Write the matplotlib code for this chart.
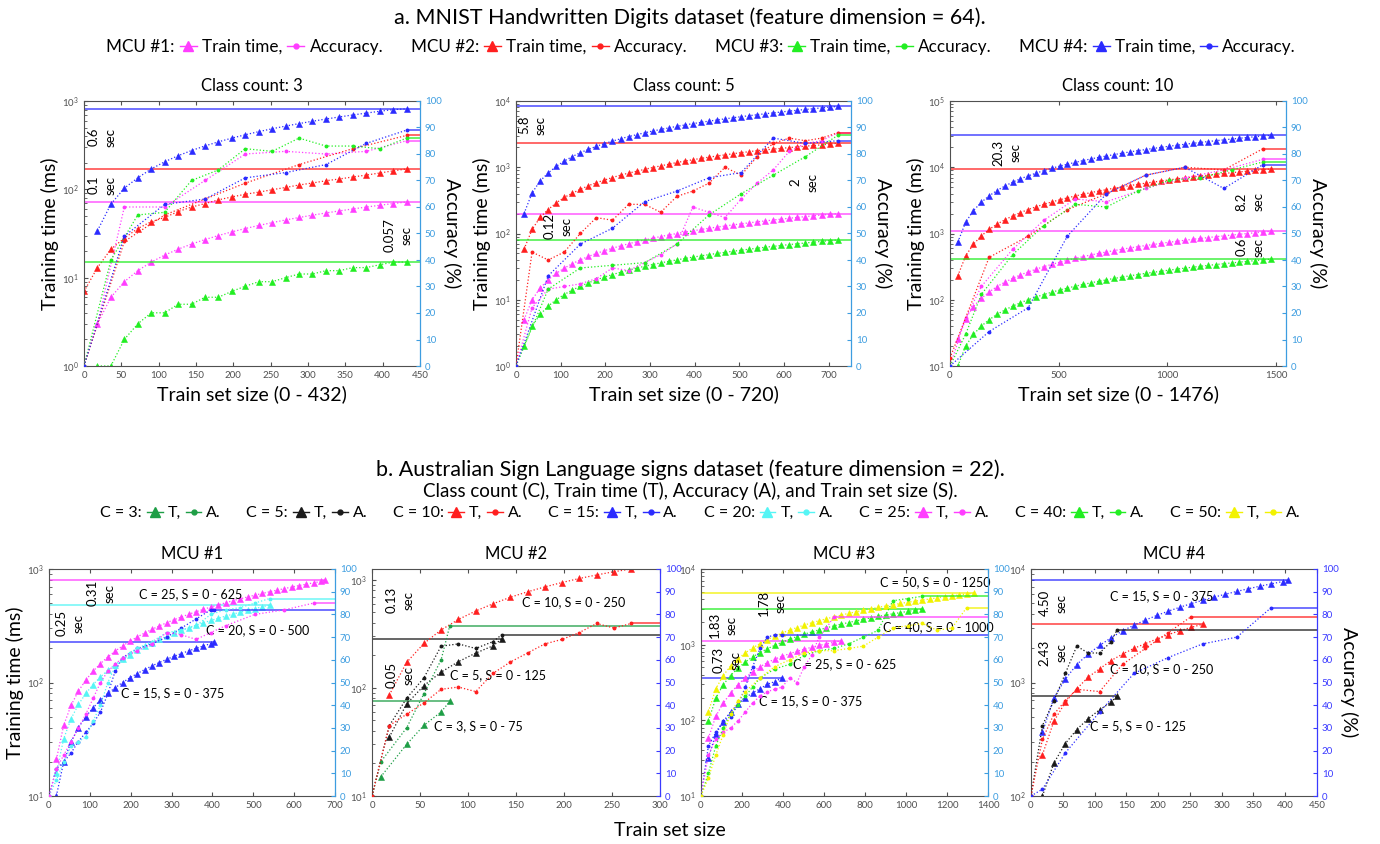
import numpy as np
import matplotlib
matplotlib.use("Agg")
import matplotlib.pyplot as plt
from matplotlib.lines import Line2D
from matplotlib.ticker import MultipleLocator, NullFormatter

plt.rcParams['font.family'] = ['Lato', 'DejaVu Sans']

# colours
MAGENTA = '#ff3dff'
RED = '#ff1f1f'
GREEN = '#22ee22'
BLUE = '#2b2bff'
CYAN = '#55f5f5'
YELLOW = '#f2f200'
DKGREEN = '#1e9e46'
BLACK = '#1a1a1a'
LIGHTBLUE = '#3d9de0'
AXBLUE = '#3a3aff'
GRAY = '#505050'

# ---------------- a. MNIST, class count 3 ----------------
a3_x = np.arange(18, 433, 18)
a3_x0 = np.arange(0, 433, 18)
a3_t_mcu1 = [3, 6, 9, 12, 15, 18, 21, 24, 27, 30, 33, 36, 39, 42, 45, 48, 51, 54, 57, 60, 63, 66, 69, 72]
a3_t_mcu2 = [7, 13, 21, 28, 36, 43, 48, 56, 63, 69, 76, 82, 88, 93, 99, 105, 112, 118, 125, 131, 138, 145, 153, 162, 170]
a3_t_mcu3 = [1, 1, 2, 3, 4, 4, 5, 5, 6, 6, 7, 8, 9, 9, 10, 11, 11, 12, 12, 13, 13, 14, 15, 15]
a3_t_mcu4 = [34, 68, 103, 135, 170, 205, 240, 275, 310, 345, 380, 415, 450, 485, 520, 555, 590, 625, 660, 695, 730, 765, 800, 815]
a3_ax_mcu1 = [0, 18, 54, 108, 162, 216, 270, 324, 378, 432]
a3_acc_mcu1 = [0, 16, 60, 60, 70, 80, 81, 80, 81, 85]
a3_ax_mcu2 = [0, 54, 108, 162, 216, 288, 360, 432]
a3_acc_mcu2 = [0, 47, 57, 63, 69, 76, 82, 87]
a3_ax_mcu3 = [0, 36, 72, 108, 144, 180, 216, 252, 288, 324, 360, 396, 432]
a3_acc_mcu3 = [0, 40, 57, 58, 70, 74, 82, 81, 86, 83, 83, 82, 86]
a3_ax_mcu4 = [0, 54, 108, 162, 216, 270, 324, 378, 432]
a3_acc_mcu4 = [0, 49, 61, 63, 71, 73, 76, 84, 89]

# ---------------- a. MNIST, class count 5 ----------------
a5_x = np.arange(18, 721, 18)
a5_t_mcu1 = [5, 10, 15, 20, 25, 30, 35, 40, 45, 50, 55, 60, 65, 70, 75, 80, 85, 90, 95, 100,
             105, 110, 115, 120, 125, 130, 135, 140, 145, 150, 155, 160, 165, 170, 175, 180, 185, 190, 195, 200]
a5_t_mcu2 = [58, 115, 175, 230, 290, 350, 405, 465, 525, 585, 640, 700, 760, 815, 870, 930, 990, 1050, 1110, 1180,
             1240, 1300, 1360, 1420, 1480, 1540, 1600, 1660, 1720, 1780, 1830, 1880, 1930, 1980, 2030, 2080, 2130, 2180, 2240, 2300]
a5_t_mcu3 = [2, 4, 6, 8, 10, 12, 14, 16, 18, 20, 22, 24, 26, 28, 30, 32, 34, 36, 38, 40,
             42, 44, 46, 48, 50, 52, 54, 56, 58, 60, 62, 64, 66, 68, 70, 72, 74, 76, 78, 80]
a5_t_mcu4 = [200, 410, 620, 820, 1030, 1240, 1450, 1660, 1860, 2070, 2280, 2480, 2690, 2900, 3100, 3310, 3520, 3720, 3930, 4140,
             4350, 4550, 4760, 4970, 5170, 5380, 5590, 5800, 6000, 6210, 6420, 6620, 6830, 7040, 7250, 7450, 7660, 7870, 8070, 8280]
a5_ax_mcu1 = [0, 36, 72, 108, 144, 180, 216, 252, 288, 324, 360, 396, 432, 468, 504, 540, 576, 612, 648, 684, 720]
a5_acc_mcu1 = [0, 22, 29, 30, 31, 33, 37, 36, 39, 42, 46, 60, 58, 56, 63, 69, 74, 81, 84, 85, 88]
a5_ax_mcu2 = [0, 36, 72, 108, 144, 180, 216, 252, 288, 324, 360, 396, 432, 468, 504, 540, 576, 612, 648, 684, 720]
a5_acc_mcu2 = [0, 43, 40, 43, 50, 56, 55, 61, 61, 58, 64, 66, 69, 75, 72, 79, 84, 86, 85, 86, 88]
a5_ax_mcu3 = [0, 72, 144, 216, 288, 360, 432, 504, 576, 648, 720]
a5_acc_mcu3 = [0, 29, 37, 38, 39, 46, 57, 65, 72, 79, 87]
a5_ax_mcu4 = [0, 72, 144, 216, 288, 360, 432, 504, 576, 648, 720]
a5_acc_mcu4 = [0, 34, 46, 52, 62, 66, 71, 73, 86, 84, 85]

# ---------------- a. MNIST, class count 10 ----------------
a10_x = np.arange(36, 1477, 36)
a10_t_mcu1 = [26, 52, 79, 105, 131, 158, 184, 210, 237, 263, 289, 316, 342, 368, 395, 421, 447, 474, 500, 526, 553,
              579, 605, 632, 658, 684, 711, 737, 763, 790, 816, 842, 869, 895, 921, 948, 974, 1000, 1027, 1053, 1080]
a10_t_mcu2 = [230, 460, 690, 920, 1150, 1380, 1610, 1840, 2070, 2300, 2530, 2760, 2990, 3220, 3450, 3680, 3910, 4140, 4370, 4600, 4830,
              5060, 5290, 5520, 5750, 5980, 6210, 6440, 6670, 6900, 7130, 7360, 7590, 7820, 8050, 8280, 8510, 8740, 8970, 9200, 9430]
a10_t_mcu3 = [10, 20, 30, 40, 50, 60, 70, 80, 90, 100, 110, 120, 130, 140, 150, 160, 170, 180, 190, 200, 210,
              220, 230, 240, 250, 260, 270, 280, 290, 300, 310, 320, 330, 340, 350, 360, 370, 380, 390, 400, 410]
a10_t_mcu4 = [740, 1480, 2220, 2960, 3700, 4450, 5200, 5950, 6700, 7400, 8150, 8900, 9650, 10400, 11100, 11850, 12600, 13350, 14100, 14800, 15550,
              16300, 17050, 17800, 18500, 19250, 20000, 20750, 21500, 22200, 22950, 23700, 24450, 25200, 25900, 26650, 27400, 28150, 28900, 29600, 30300]
a10_ax_mcu1 = [0, 72, 144, 288, 432, 576, 720, 900, 1080, 1260, 1440]
a10_acc_mcu1 = [0, 18, 30, 44, 55, 63, 62, 67, 71, 74, 78]
a10_ax_mcu2 = [0, 180, 360, 540, 720, 900, 1080, 1260, 1440]
a10_acc_mcu2 = [3, 41, 49, 59, 65, 72, 75, 74, 82]
a10_ax_mcu3 = [0, 72, 144, 288, 432, 576, 720, 864, 1008, 1152, 1296, 1440]
a10_acc_mcu3 = [0, 12, 27, 42, 53, 61, 60, 66, 70, 71, 74, 77]
a10_ax_mcu4 = [0, 180, 360, 540, 720, 900, 1080, 1260, 1440]
a10_acc_mcu4 = [0, 13, 22, 49, 65, 72, 75, 67, 76]

# ---------------- b. Auslan, MCU #1 ----------------
b1_x15 = np.append(np.arange(18, 397, 18), 405)
b1_t15 = [10, 20, 30, 40, 50, 60, 70, 80, 90, 100, 110, 120, 130, 140, 150, 160, 170, 180, 190, 200, 210, 220, 228]
b1_x20 = np.arange(18, 541, 18)
b1_t20 = [16, 32, 48, 64, 80, 96, 112, 128, 144, 160, 176, 192, 208, 224, 240,
          256, 272, 288, 304, 320, 336, 352, 368, 384, 400, 416, 432, 448, 464, 480]
b1_x25 = np.append(np.arange(18, 667, 18), 675)
b1_t25 = [21, 42, 63, 84, 105, 126, 147, 168, 189, 210, 231, 252, 273, 294, 315, 336, 357, 378, 399,
          420, 441, 462, 483, 504, 525, 546, 567, 588, 609, 630, 651, 672, 693, 714, 735, 756, 777, 795]
b1_ax15 = [0, 18, 36, 54, 72, 90, 108, 126, 144, 162, 180, 216, 252, 288, 324, 360, 396, 405]
b1_acc15 = [0, 12, 15, 19, 24, 28, 32, 37, 45, 55, 61, 65, 67, 70, 74, 78, 82, 82]
b1_ax20 = [0, 18, 36, 54, 72, 90, 108, 126, 144, 162, 180, 198, 216, 252, 288, 324, 360, 396, 432, 468, 504, 540]
b1_acc20 = [0, 7, 15, 22, 24, 26, 33, 40, 50, 57, 60, 63, 65, 68, 72, 73, 75, 80, 82, 83, 85, 87]
b1_ax25 = [0, 18, 36, 54, 72, 90, 108, 126, 144, 162, 180, 216, 252, 288, 324, 360, 396, 432, 504, 576, 648]
b1_acc25 = [0, 12, 18, 24, 30, 36, 43, 50, 55, 58, 61, 64, 67, 72, 71, 69, 72, 75, 80, 82, 85]

# ---------------- b. Auslan, MCU #2 ----------------
b2_x3 = [9, 36, 54, 72, 81]
b2_t3 = [15, 30, 45, 60, 75]
b2_x5 = [18, 36, 54, 72, 90, 108, 126, 135]
b2_t5 = [35, 71, 105, 140, 175, 210, 245, 283]
b2_x10 = np.arange(18, 271, 18)
b2_t10 = [86, 172, 258, 344, 430, 515, 600, 690, 775, 860, 945, 1030, 1110, 1190, 1260]
b2_ax3 = [0, 9, 36, 54, 72, 81]
b2_acc3 = [0, 15, 30, 45, 60, 75]
b2_ax5 = [0, 18, 36, 54, 72, 90, 108, 126, 135]
b2_acc5 = [0, 31, 43, 52, 66, 67, 65, 68, 71]
b2_ax10 = np.arange(0, 271, 18)
b2_acc10 = [0, 31, 36, 41, 47, 48, 46, 54, 59, 63, 67, 69, 72, 76, 74, 76]

# ---------------- b. Auslan, MCU #3 ----------------
b3_x15 = np.arange(36, 397, 36)
b3_t15 = [32, 66, 96, 130, 163, 200, 230, 262, 300, 325, 365]
b3_x25 = np.arange(36, 685, 36)
b3_t25 = [58, 113, 168, 228, 295, 365, 440, 510, 580, 645, 700, 760, 815, 870, 925, 975, 1025, 1075, 1120]
b3_x40 = np.arange(36, 1081, 36)
b3_t40 = [98, 195, 295, 390, 490, 590, 690, 785, 885, 980, 1080, 1180, 1280, 1380, 1470,
          1570, 1670, 1770, 1870, 1960, 2060, 2160, 2260, 2360, 2460, 2560, 2650, 2750, 2850, 2950]
b3_x50 = np.arange(36, 1333, 36)
b3_t50 = [130, 260, 390, 520, 650, 780, 905, 1035, 1165, 1295, 1425, 1555, 1685, 1815, 1945, 2075, 2200, 2330, 2460,
          2590, 2720, 2850, 2980, 3110, 3240, 3370, 3500, 3630, 3760, 3890, 4020, 4150, 4280, 4410, 4540, 4670, 4800]
b3_ax15 = [0, 36, 72, 108, 144, 180, 216, 252, 288, 324, 360, 396]
b3_acc15 = [0, 22, 28, 33, 35, 40, 48, 57, 65, 70, 71, 71]
b3_ax25 = [0, 36, 72, 108, 144, 180, 216, 252, 288, 324, 360, 396, 432, 468, 504, 540, 576, 612, 648]
b3_acc25 = [0, 18, 25, 28, 30, 33, 37, 41, 44, 46, 47, 48, 52, 50, 57, 62, 70, 74, 79]
b3_ax40 = [0, 36, 72, 108, 144, 180, 216, 252, 288, 360, 432, 504, 576, 648, 720, 792, 864, 936, 1008, 1080]
b3_acc40 = [0, 10, 22, 30, 36, 40, 44, 48, 52, 56, 58, 62, 64, 65, 67, 70, 73, 86, 87, 88]
b3_ax50 = [0, 36, 72, 108, 144, 180, 216, 288, 360, 432, 504, 576, 648, 720, 792, 864, 936, 1008, 1080, 1152, 1224, 1296]
b3_acc50 = [0, 8, 18, 27, 36, 42, 46, 52, 57, 60, 63, 64, 64, 65, 66, 70, 74, 75, 76, 73, 74, 83]

# ---------------- b. Auslan, MCU #4 ----------------
b4_x5 = [18, 36, 54, 72, 90, 108, 126, 135]
b4_t5 = [100, 195, 290, 385, 480, 575, 670, 760]
b4_x10 = np.arange(18, 271, 18)
b4_t10 = [231, 455, 670, 880, 1115, 1320, 1560, 1780, 2000, 2200, 2420, 2640, 2860, 3060, 3260]
b4_x15 = np.append(np.arange(18, 397, 18), 405)
b4_t15 = [365, 730, 1070, 1440, 1780, 2120, 2480, 2850, 3200, 3550, 3900, 4250, 4600, 4950, 5300,
          5650, 6000, 6350, 6700, 7050, 7400, 7750, 7950]
b4_ax5 = [0, 18, 36, 54, 72, 90, 108, 126, 135]
b4_acc5 = [0, 31, 42, 54, 66, 63, 63, 68, 73]
b4_ax10 = [0, 18, 36, 54, 72, 108, 144, 180, 216, 252]
b4_acc10 = [0, 25, 36, 42, 47, 46, 58, 65, 72, 79]
b4_ax15 = [0, 18, 54, 108, 162, 216, 270, 324, 378]
b4_acc15 = [0, 3, 19, 37, 54, 61, 67, 70, 83]

W, H = 1380, 844
fig = plt.figure(figsize=(W / 100, H / 100), dpi=100)


def box(l, t, r, b):
    # pixel box -> figure fraction
    return [l / W, 1 - b / H, (r - l) / W, (b - t) / H]


def panel(spec, rcolor, full_lines):
    ax = fig.add_axes(box(*spec['box']))
    ax2 = ax.twinx()
    xmax = spec['xmax']
    for color, tx, ty, accx, accy in spec['series']:
        ax.plot(tx, ty, ls=':', lw=0.9, color=color, marker='^', ms=4, mew=0.4)
        end = xmax if full_lines else tx[-1]
        ax.plot([0, end], [ty[-1], ty[-1]], color=color, lw=1.1, alpha=0.85)
        ax2.plot(accx, accy, ls=':', lw=0.9, color=color, marker='o', ms=1.8)
        ax2.plot([accx[-1], xmax], [accy[-1], accy[-1]], color=color, lw=1.1, alpha=0.85)

    ax.set_xlim(0, xmax)
    ax.set_yscale('log')
    ax.set_ylim(*spec['ylim'])
    ax.xaxis.set_major_locator(MultipleLocator(spec['xstep']))
    ax.yaxis.set_minor_formatter(NullFormatter())
    ax.tick_params(which='both', direction='in', top=True, right=False,
                   labelsize=7, colors=GRAY, length=3)
    ax.tick_params(which='minor', length=1.8)
    for s in ax.spines.values():
        s.set_color(GRAY)
        s.set_linewidth(0.8)
    ax.spines['right'].set_visible(False)

    ax2.set_ylim(0, 100)
    ax2.yaxis.set_major_locator(MultipleLocator(10))
    ax2.tick_params(direction='in', colors=rcolor, labelsize=7, length=3)
    for k in ('left', 'top', 'bottom'):
        ax2.spines[k].set_visible(False)
    ax2.spines['right'].set_color(rcolor)
    ax2.spines['right'].set_linewidth(0.9)

    ax.set_title(spec['title'], fontsize=12, pad=7)
    for s, fx, fy in spec['notes']:
        ax.text(fx, fy, s, transform=ax.transAxes, rotation=90, ha='center', va='center',
                fontsize=9.5, multialignment='center', linespacing=1.45)
    for s, fx, fy in spec.get('labels', []):
        ax.text(fx, fy, s, transform=ax.transAxes, ha='left', va='center', fontsize=9)
    return ax, ax2


top_specs = [
    dict(box=(84, 101, 420, 366), xmax=450, xstep=50, ylim=(1, 1e3), title='Class count: 3',
         xlabel='Train set size (0 - 432)',
         series=[(MAGENTA, a3_x, a3_t_mcu1, a3_ax_mcu1, a3_acc_mcu1),
                 (RED, a3_x0, a3_t_mcu2, a3_ax_mcu2, a3_acc_mcu2),
                 (GREEN, a3_x, a3_t_mcu3, a3_ax_mcu3, a3_acc_mcu3),
                 (BLUE, a3_x, a3_t_mcu4, a3_ax_mcu4, a3_acc_mcu4)],
         notes=[('0.6\nsec', 0.054, 0.864), ('0.1\nsec', 0.054, 0.683), ('0.057\nsec', 0.935, 0.494)]),
    dict(box=(516, 101, 851, 366), xmax=750, xstep=100, ylim=(1, 1e4), title='Class count: 5',
         xlabel='Train set size (0 - 720)',
         series=[(MAGENTA, a5_x, a5_t_mcu1, a5_ax_mcu1, a5_acc_mcu1),
                 (RED, a5_x, a5_t_mcu2, a5_ax_mcu2, a5_acc_mcu2),
                 (GREEN, a5_x, a5_t_mcu3, a5_ax_mcu3, a5_acc_mcu3),
                 (BLUE, a5_x, a5_t_mcu4, a5_ax_mcu4, a5_acc_mcu4)],
         notes=[('5.8\nsec', 0.048, 0.909), ('0.12\nsec', 0.125, 0.528), ('2\nsec', 0.860, 0.694)]),
    dict(box=(950, 101, 1286, 366), xmax=1546, xstep=500, ylim=(10, 1e5), title='Class count: 10',
         xlabel='Train set size (0 - 1476)',
         series=[(MAGENTA, a10_x, a10_t_mcu1, a10_ax_mcu1, a10_acc_mcu1),
                 (RED, a10_x, a10_t_mcu2, a10_ax_mcu2, a10_acc_mcu2),
                 (GREEN, a10_x, a10_t_mcu3, a10_ax_mcu3, a10_acc_mcu3),
                 (BLUE, a10_x, a10_t_mcu4, a10_ax_mcu4, a10_acc_mcu4)],
         notes=[('20.3\nsec', 0.170, 0.804), ('8.2\nsec', 0.893, 0.619), ('0.6\nsec', 0.893, 0.449)]),
]

for spec in top_specs:
    ax, ax2 = panel(spec, LIGHTBLUE, True)
    ax.set_ylabel('Training time (ms)', fontsize=14, labelpad=2)
    ax2.set_ylabel('Accuracy (%)', fontsize=14, rotation=270, labelpad=14)
    ax.set_xlabel(spec['xlabel'], fontsize=14, labelpad=4)

bottom_specs = [
    dict(box=(49, 569, 335, 796), xmax=700, xstep=100, ylim=(10, 1e3), title='MCU #1', rcolor=LIGHTBLUE,
         series=[(BLUE, b1_x15, b1_t15, b1_ax15, b1_acc15),
                 (CYAN, b1_x20, b1_t20, b1_ax20, b1_acc20),
                 (MAGENTA, b1_x25, b1_t25, b1_ax25, b1_acc25)],
         notes=[('0.31\nsec', 0.182, 0.894), ('0.25\nsec', 0.073, 0.762)],
         labels=[('C = 25, S = 0 - 625', 0.315, 0.890), ('C = 20, S = 0 - 500', 0.549, 0.731),
                 ('C = 15, S = 0 - 375', 0.252, 0.454)]),
    dict(box=(372, 569, 660, 796), xmax=300, xstep=50, ylim=(10, 1260), title='MCU #2', rcolor=AXBLUE,
         series=[(DKGREEN, b2_x3, b2_t3, b2_ax3, b2_acc3),
                 (BLACK, b2_x5, b2_t5, b2_ax5, b2_acc5),
                 (RED, b2_x10, b2_t10, b2_ax10, b2_acc10)],
         notes=[('0.13\nsec', 0.097, 0.863), ('0.05\nsec', 0.097, 0.533)],
         labels=[('C = 10, S = 0 - 250', 0.521, 0.855), ('C = 5, S = 0 - 125', 0.271, 0.533),
                 ('C = 3, S = 0 - 75', 0.215, 0.308)]),
    dict(box=(701, 569, 988, 796), xmax=1400, xstep=200, ylim=(10, 1e4), title='MCU #3', rcolor=LIGHTBLUE,
         series=[(BLUE, b3_x15, b3_t15, b3_ax15, b3_acc15),
                 (MAGENTA, b3_x25, b3_t25, b3_ax25, b3_acc25),
                 (GREEN, b3_x40, b3_t40, b3_ax40, b3_acc40),
                 (YELLOW, b3_x50, b3_t50, b3_ax50, b3_acc50)],
         notes=[('1.78\nsec', 0.247, 0.850), ('1.83\nsec', 0.077, 0.753), ('0.73\nsec', 0.091, 0.599)],
         labels=[('C = 50, S = 0 - 1250', 0.624, 0.943), ('C = 40, S = 0 - 1000', 0.634, 0.744),
                 ('C = 25, S = 0 - 625', 0.321, 0.581), ('C = 15, S = 0 - 375', 0.202, 0.419)]),
    dict(box=(1031, 569, 1317, 796), xmax=450, xstep=50, ylim=(100, 1e4), title='MCU #4', rcolor=AXBLUE,
         series=[(BLACK, b4_x5, b4_t5, b4_ax5, b4_acc5),
                 (RED, b4_x10, b4_t10, b4_ax10, b4_acc10),
                 (BLUE, b4_x15, b4_t15, b4_ax15, b4_acc15)],
         notes=[('4.50\nsec', 0.077, 0.850), ('2.43\nsec', 0.077, 0.630)],
         labels=[('C = 15, S = 0 - 375', 0.276, 0.881), ('C = 10, S = 0 - 250', 0.276, 0.559),
                 ('C = 5, S = 0 - 125', 0.206, 0.308)]),
]

bottom_axes = []
for spec in bottom_specs:
    bottom_axes.append(panel(spec, spec['rcolor'], False))
bottom_axes[0][0].set_ylabel('Training time (ms)', fontsize=14, labelpad=2)
bottom_axes[-1][1].set_ylabel('Accuracy (%)', fontsize=14, rotation=270, labelpad=14)


def legend_row(y, groups, tlabel, alabel, fontsize):
    handles, labels = [], []
    for name, color in groups:
        handles.append(Line2D([], [], ls='none'))
        labels.append(name)
        handles.append(Line2D([], [], color=color, lw=1, marker='^', ms=7))
        labels.append(tlabel)
        handles.append(Line2D([], [], color=color, lw=1, marker='o', ms=3.5))
        labels.append(alabel)
    fig.legend(handles, labels, loc='center', bbox_to_anchor=(0.5, 1 - y / H), ncol=len(labels),
               frameon=False, handlelength=1.0, handletextpad=0.3, columnspacing=0.3, fontsize=fontsize)


fig.text(0.5, 1 - 18 / H, 'a. MNIST Handwritten Digits dataset (feature dimension = 64).',
         ha='center', va='center', fontsize=15.5)
legend_row(47, [('MCU #1:', MAGENTA), ('MCU #2:', RED), ('MCU #3:', GREEN), ('MCU #4:', BLUE)],
           'Train time,', 'Accuracy.', 12.3)

fig.text(0.5, 1 - 470 / H, 'b. Australian Sign Language signs dataset (feature dimension = 22).',
         ha='center', va='center', fontsize=15.5)
fig.text(0.5, 1 - 491 / H, 'Class count (C), Train time (T), Accuracy (A), and Train set size (S).',
         ha='center', va='center', fontsize=13.5)
legend_row(513, [('C = 3:', DKGREEN), ('C = 5:', BLACK), ('C = 10:', RED), ('C = 15:', BLUE),
                 ('C = 20:', CYAN), ('C = 25:', MAGENTA), ('C = 40:', GREEN), ('C = 50:', YELLOW)],
           'T,', 'A.', 11.5)

fig.text(670 / W, 1 - 830 / H, 'Train set size', ha='center', va='center', fontsize=14)

fig.savefig('out.png', dpi=100)
